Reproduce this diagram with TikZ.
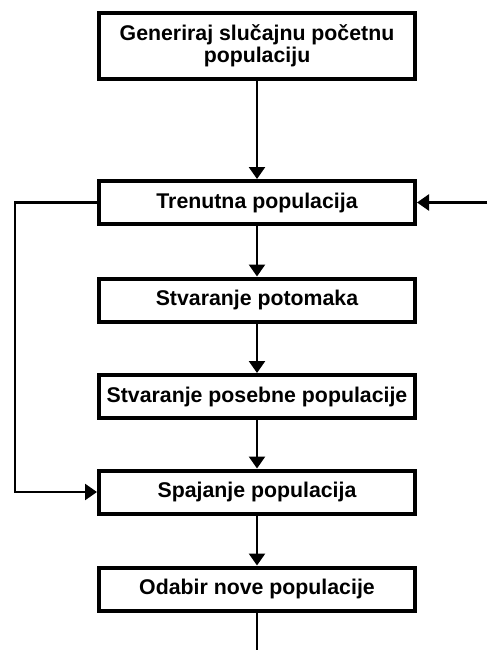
\documentclass[tikz,border=0pt]{standalone}
\usepackage{fontspec}
\setmainfont{Liberation Sans}
\usepackage{xcolor}
\usetikzlibrary{arrows.meta}

\begin{document}
\begin{tikzpicture}[x=1pt,y=-1pt,
  korak/.style={draw,line width=4pt,rectangle,minimum width=316pt,minimum height=43pt,
    inner sep=0pt,align=center,font=\fontsize{21.3}{22.5}\selectfont\bfseries},
  veza/.style={line width=2.5pt,-{Triangle[length=12pt,width=16pt]}}]
\useasboundingbox (0,0) rectangle (487,650);
\node[korak,minimum height=66pt] (gen) at (257,46) {Generiraj slučajnu početnu\\populaciju};
\node[korak] (tren) at (257,202.5) {Trenutna populacija};
\node[korak] (potom) at (257,300) {Stvaranje potomaka};
\node[korak] (poseb) at (257,396.5) {Stvaranje posebne populacije};
\node[korak] (spaj) at (257,492) {Spajanje populacija};
\node[korak] (odab) at (257,589) {Odabir nove populacije};

\coordinate (ulaz) at (487,202.5);
\coordinate (lijevo) at (15,202.5);
\coordinate (izlaz) at (257,650);

\draw[veza] (gen) -- (tren);
\draw[veza] (tren) -- (potom);
\draw[veza] (potom) -- (poseb);
\draw[veza] (poseb) -- (spaj);
\draw[veza] (spaj) -- (odab);
\draw[line width=2.5pt] (odab) -- (izlaz);
\draw[veza] (ulaz) -- (tren);
\draw[veza] (tren.west) -- (lijevo) |- (spaj.west);
\end{tikzpicture}
\end{document}
